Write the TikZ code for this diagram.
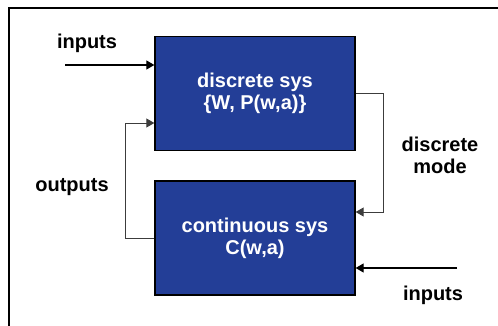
\documentclass[tikz,border=0pt]{standalone}
\usepackage{fontspec}
\setmainfont{Liberation Sans}
\usetikzlibrary{positioning, arrows.meta}
\definecolor{sysBlue}{RGB}{ 35, 62,151}
\definecolor{wireGrey}{RGB}{ 60, 60, 60}
\tikzset{
    sysbox/.style={
        rectangle, draw=black, fill=sysBlue,
        line width=1.3pt, align=center, text=white,
        font=\fontsize{20}{22}\selectfont\bfseries,
        minimum width=200pt, minimum height=114pt,
    },
    % Edge styles:
    %   inarrow -> external inputs (solid, black)
    %   loop    -> internal wiring between the two systems (thin, grey)
    inarrow/.style={
        -{Triangle[length=8pt, width=9pt]}, line width=1.2pt, draw=black,
    },
    loop/.style={
        -{Triangle[length=8pt, width=9pt]}, line width=0.9pt, draw=wireGrey,
    },
    lbl/.style={
        font=\fontsize{20}{22}\selectfont\bfseries, align=center,
        inner sep=0pt,
    },
}

\begin{document}
\begin{tikzpicture}[x=1pt, y=1pt]

\useasboundingbox (0,0) rectangle (498,326);

% ============================================================
%   Outer frame (runs off the right and bottom edge)
% ============================================================
\draw[line width=2pt] (498,318) -| (9,0);

% ============================================================
%   Nodes
% ============================================================
\node[sysbox] (dsys) at (255, 232.5) {discrete sys\\\{W, P(w,a)\}};
\node[sysbox] (csys) at (255,  88.0) {continuous sys\\C(w,a)};

\node[lbl] (inTop)  at ( 87, 283) {inputs};
\node[lbl] (outLbl) at ( 72, 139) {outputs};
\node[lbl] (modeLbl) at (440, 171) {discrete\\mode};
\node[lbl] (inBot)  at (433,  31) {inputs};

\coordinate (in1) at ( 65, 261);
\coordinate (in2) at (457,  58);

% ============================================================
%   Edges
% ============================================================

% --- inputs into both systems --------------------------------
\draw[inarrow] (in1) -- (in1 -| dsys.west);
\draw[inarrow] (in2) -- (in2 -| csys.east);

% --- outputs: continuous -> discrete (left loop) -------------
\draw[loop] (csys.west) -- ++(-29,0) |- ([yshift=-29.5pt]dsys.west);

% --- discrete mode: discrete -> continuous (right loop) ------
\draw[loop] (dsys.east) -- ++(28,0) |- ([yshift=26pt]csys.east);

\end{tikzpicture}
\end{document}
